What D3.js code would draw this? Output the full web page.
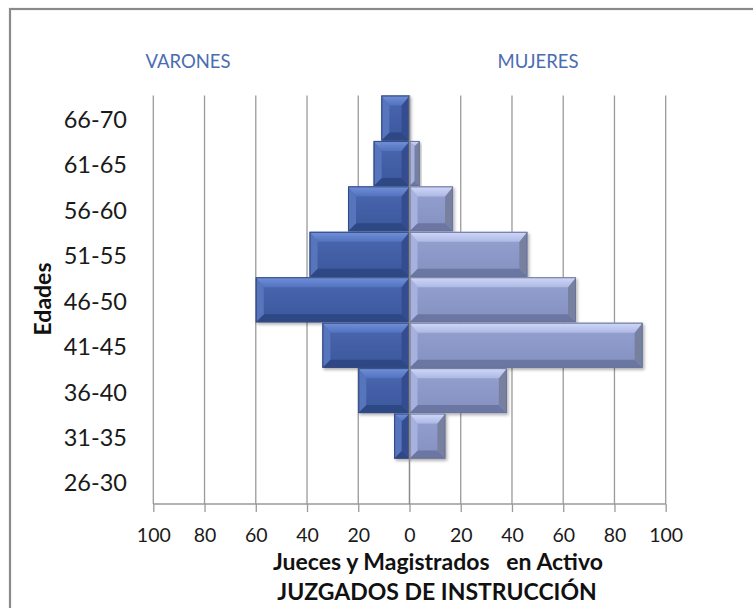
<!DOCTYPE html>
<html><head><meta charset="utf-8">
<script src="https://cdn.jsdelivr.net/npm/d3@7"></script>
<style>html,body{margin:0;padding:0;background:#fff;}svg{display:block;}</style>
</head><body>
<script>
const categories = ["66-70","61-65","56-60","51-55","46-50","41-45","36-40","31-35","26-30"];
const varones = [11,14,24,39,60,34,20,6,0];
const mujeres = [0,4,17,46,65,91,38,14,0];
const tickValues = [-100,-80,-60,-40,-20,0,20,40,60,80,100];
const leftLabel = "VARONES", rightLabel = "MUJERES";
const yTitle = "Edades";
const xTitle1 = "Jueces y Magistrados   en Activo";
const xTitle2 = "JUZGADOS DE INSTRUCCIÓN";

const W = 753, H = 608;
const FONT = "Lato, 'Open Sans', sans-serif";
const svg = d3.select("body").append("svg").attr("width", W).attr("height", H);

const defs = svg.append("defs");
const f = defs.append("filter").attr("id","sh").attr("x","-10%").attr("y","-10%").attr("width","130%").attr("height","130%");
f.append("feDropShadow").attr("dx",1.5).attr("dy",2).attr("stdDeviation",1.5).attr("flood-color","#000").attr("flood-opacity",0.3);
function grad(id, c1, c2){
  const g = defs.append("linearGradient").attr("id",id).attr("x1",0).attr("y1",0).attr("x2",0).attr("y2",1);
  g.append("stop").attr("offset","0%").attr("stop-color",c1);
  g.append("stop").attr("offset","100%").attr("stop-color",c2);
}
grad("gm","#4A68B0","#3C579C");
grad("gw","#95A1D0","#8490C0");
grad("gmt","#7391DA","#5272BE");
grad("gwt","#D0D9FA","#AEB9E4");

// frame
svg.append("rect").attr("x",10).attr("y",9).attr("width",W+10).attr("height",H+10)
  .attr("fill","none").attr("stroke","#8a8a8a").attr("stroke-width",2.2);

const x = d3.scaleLinear().domain([-100,100]).range([153.3,665.7]);
const y = d3.scaleBand().domain(categories).range([95.5,504]).paddingInner(0.01);

// gridlines
svg.append("g").selectAll("line").data(tickValues.filter(v=>v!==0)).join("line")
  .attr("x1",d=>x(d)).attr("x2",d=>x(d)).attr("y1",95.5).attr("y2",504)
  .attr("stroke","#9a9a9a").attr("stroke-width",1.3);

// x axis
const xAxis = d3.axisBottom(x).tickValues(tickValues).tickSize(8).tickFormat(d=>Math.abs(d));
const ax = svg.append("g").attr("transform","translate(0,504)").call(xAxis);
ax.select(".domain").attr("stroke","#9a9a9a").attr("stroke-width",1.3).attr("d",`M${x(-100)},0H${x(100)}`);
ax.selectAll(".tick line").attr("stroke","#9a9a9a").attr("stroke-width",1.3);
ax.selectAll(".tick text").attr("font-family",FONT).attr("font-size",19.5).attr("fill","#1a1a1a").attr("dy","1.4em");

// bars with bevel
function bar(g, x0, x1, yy, h, c){
  const bx = Math.min(x0,x1), w = Math.abs(x1-x0);
  if (w <= 0) return;
  const b = Math.min(8, w/2, h/2);
  const bt = Math.min(10, w/2, h/2);
  const gg = g.append("g").attr("filter","url(#sh)");
  gg.append("rect").attr("x",bx).attr("y",yy).attr("width",w).attr("height",h).attr("fill",c.face);
  const P = (pts,fill)=>gg.append("polygon").attr("points",pts.map(p=>p.join(",")).join(" ")).attr("fill",fill);
  P([[bx,yy+h],[bx+w,yy+h],[bx+w-b,yy+h-b],[bx+b,yy+h-b]], c.bottom);
  P([[bx,yy],[bx+b,yy+bt],[bx+b,yy+h-b],[bx,yy+h]], c.left);
  P([[bx+w,yy],[bx+w-b,yy+bt],[bx+w-b,yy+h-b],[bx+w,yy+h]], c.right);
  P([[bx,yy],[bx+w,yy],[bx+w-b,yy+bt],[bx+b,yy+bt]], c.top);
  gg.append("rect").attr("x",bx+0.5).attr("y",yy+0.5).attr("width",w-1).attr("height",h-1)
    .attr("fill","none").attr("stroke",c.stroke).attr("stroke-width",1);
}
const cm = {face:"url(#gm)", top:"url(#gmt)", bottom:"#2F4785", left:"#5674BC", right:"#344D90", stroke:"#34497F"};
const cw = {face:"url(#gw)", top:"url(#gwt)", bottom:"#6C76A2", left:"#A6B1DD", right:"#77819F", stroke:"#6A7398"};
const bars = svg.append("g");
categories.forEach((c,i)=>{
  bar(bars, x(0), x(-varones[i]), y(c), y.bandwidth(), cm);
  bar(bars, x(0), x(mujeres[i]), y(c), y.bandwidth(), cw);
});

// zero line
svg.append("line").attr("x1",x(0)).attr("x2",x(0)).attr("y1",95.5).attr("y2",504)
  .attr("stroke","#8a8a8a").attr("stroke-width",1.5);

// category labels
const yAxis = d3.axisLeft(y).tickSize(0).tickPadding(0);
const ay = svg.append("g").attr("transform","translate(127,1.5)").call(yAxis);
ay.select(".domain").remove();
ay.selectAll(".tick text").attr("font-family",FONT).attr("font-size",23.5).attr("fill","#1a1a1a").attr("dy","0.36em");

// labels
svg.append("text").attr("x",188).attr("y",68).attr("text-anchor","middle").attr("font-family",FONT)
  .attr("font-size",18.5).attr("fill","#4A6DB0").text(leftLabel);
svg.append("text").attr("x",538).attr("y",68).attr("text-anchor","middle").attr("font-family",FONT)
  .attr("font-size",18.5).attr("fill","#4A6DB0").text(rightLabel);

svg.append("text").attr("transform","translate(51,299) rotate(-90)").attr("text-anchor","middle")
  .attr("font-family",FONT).attr("font-weight","bold").attr("font-size",23).attr("fill","#111").text(yTitle);

svg.append("text").attr("x",438).attr("y",570).attr("text-anchor","middle").attr("font-family",FONT)
  .attr("font-weight","bold").attr("font-size",23).attr("fill","#111").attr("xml:space","preserve").style("white-space","pre").text(xTitle1);
svg.append("text").attr("x",437).attr("y",600).attr("text-anchor","middle").attr("font-family",FONT)
  .attr("font-weight","bold").attr("font-size",23).attr("fill","#111").text(xTitle2);
</script>
</body></html>
